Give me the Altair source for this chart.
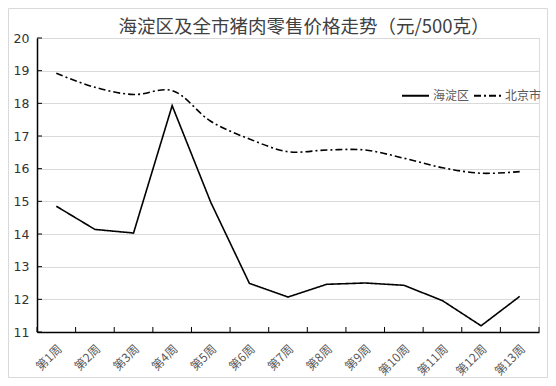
import altair as alt
import pandas as pd

weeks = ["第1周", "第2周", "第3周", "第4周", "第5周", "第6周", "第7周",
         "第8周", "第9周", "第10周", "第11周", "第12周", "第13周"]
haidian = [14.85, 14.14, 14.03, 17.93, 14.97, 12.49, 12.07, 12.46, 12.50, 12.43, 11.96, 11.19, 12.09]
beijing = [18.92, 18.49, 18.27, 18.39, 17.45, 16.91, 16.52, 16.57, 16.57, 16.32, 16.03, 15.86, 15.91]
series_names = ["海淀区", "北京市"]
y_ticks = [11, 12, 13, 14, 15, 16, 17, 18, 19, 20]
title_text = "海淀区及全市猪肉零售价格走势（元/500克）"

rows = []
for w, v in zip(weeks, haidian):
    rows.append({"week": w, "price": v, "series": series_names[0]})
for w, v in zip(weeks, beijing):
    rows.append({"week": w, "price": v, "series": series_names[1]})
df = pd.DataFrame(rows)

CJK = "Noto Sans CJK SC"
x_scale = alt.Scale(type="band", paddingInner=0, paddingOuter=0)
y_scale = alt.Scale(domain=[11, 20], nice=False, zero=False)

x_axis = alt.Axis(
    title=None,
    labelAngle=315,
    labelAlign="right",
    labelBaseline="top",
    labelFont=CJK,
    labelFontSize=12,
    labelColor="#595959",
    labelPadding=11,
    labelOverlap=False,
    ticks=False,
    domainColor="black",
    domainWidth=1.5,
    grid=False,
)

y_axis = alt.Axis(
    title=None,
    values=y_ticks,
    labelFont="DejaVu Sans",
    labelFontSize=12.5,
    labelColor="#333333",
    labelPadding=8,
    labelOverlap=False,
    labelFlush=False,
    ticks=False,
    domainColor="black",
    domainWidth=1.5,
    grid=True,
    gridColor="#d9d9d9",
    gridWidth=1,
)

x_enc = alt.X("week:N", sort=weeks, bandPosition=0.5, scale=x_scale, axis=x_axis)
y_enc = alt.Y("price:Q", scale=y_scale, axis=y_axis)

dash_enc = alt.StrokeDash(
    "series:N",
    scale=alt.Scale(domain=series_names, range=[[1, 0], [7, 3, 2, 3]]),
    legend=alt.Legend(
        title=None,
        orient="none",
        legendX=364,
        legendY=43,
        direction="horizontal",
        symbolType="stroke",
        symbolSize=729,
        symbolStrokeWidth=1.8,
        symbolStrokeColor="black",
        labelFont=CJK,
        labelFontSize=12,
        labelColor="#595959",
        labelOffset=3,
        columnPadding=0,
    ),
)

base = alt.Chart(df)

line_hd = base.transform_filter(alt.datum.series == series_names[0]).mark_line(
    color="black", strokeWidth=1.6
).encode(x=x_enc, y=y_enc, strokeDash=dash_enc)

line_bj = base.transform_filter(alt.datum.series == series_names[1]).mark_line(
    color="black", strokeWidth=1.6, interpolate="catmull-rom"
).encode(x=x_enc, y=y_enc, strokeDash=dash_enc)

# inward tick marks on the axes
week_df = pd.DataFrame({"week": weeks})
xticks = alt.Chart(week_df).mark_rule(color="black", strokeWidth=1).encode(
    x=alt.X("week:N", sort=weeks, bandPosition=0, scale=x_scale, axis=x_axis),
    y=alt.value(294), y2=alt.value(289),
)
xtick_end = alt.Chart(pd.DataFrame({"week": weeks[-1:]})).mark_rule(
    color="black", strokeWidth=1
).encode(
    x=alt.X("week:N", sort=weeks, bandPosition=1, scale=x_scale, axis=x_axis),
    y=alt.value(294), y2=alt.value(289),
)
yticks = alt.Chart(pd.DataFrame({"price": y_ticks})).mark_rule(
    color="black", strokeWidth=1
).encode(
    y=alt.Y("price:Q", scale=y_scale, axis=y_axis),
    x=alt.value(0), x2=alt.value(5),
)

frame = alt.Chart(pd.DataFrame({"a": [0]})).mark_rect(
    fillOpacity=0, stroke="#d9d9d9", strokeWidth=1
).encode(
    x=alt.value(-28.5), x2=alt.value(510.5),
    y=alt.value(-29.5), y2=alt.value(339.5),
)

chart = alt.layer(line_hd, line_bj, xticks, xtick_end, yticks, frame).properties(
    width=502,
    height=294,
    autosize=alt.AutoSizeParams(type="none"),
    padding={"left": 29, "top": 30, "right": 9, "bottom": 46},
    title=alt.TitleParams(
        text=title_text,
        font=CJK,
        fontSize=18.5,
        fontWeight="normal",
        color="#404040",
        anchor="middle",
        frame="group",
        baseline="bottom",
        dx=16,
        dy=49,
        offset=2,
    ),
).configure_view(strokeWidth=0).configure(background="white")

chart.save("out.html", embed_options={"renderer": "svg", "actions": False})
